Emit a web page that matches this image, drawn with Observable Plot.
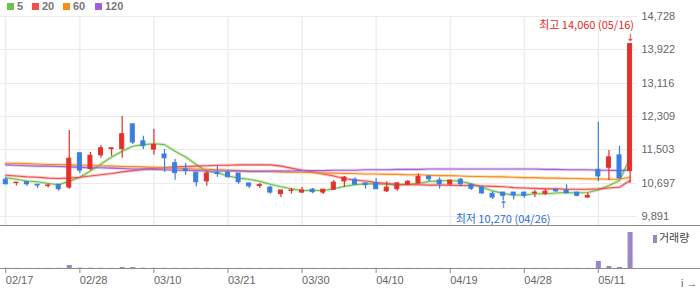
<!DOCTYPE html>
<html><head><meta charset="utf-8">
<script src="https://cdn.jsdelivr.net/npm/d3@7"></script>
<script src="https://cdn.jsdelivr.net/npm/@observablehq/plot@0.6"></script>
<style>
body{margin:0;background:#fff;}
#wrap{position:relative;width:700px;height:289px;overflow:hidden;font-family:"Liberation Sans",Arial,sans-serif;}
#wrap svg{position:absolute;left:0;overflow:visible;}
.leg{position:absolute;top:1px;font:bold 11px "Liberation Sans",Arial,sans-serif;color:#777;line-height:11px;white-space:nowrap;}
.leg i{display:inline-block;width:7px;height:7px;margin-right:3px;vertical-align:0px;}
.hline{position:absolute;left:0;width:700px;height:1px;background:#8a8a8a;}
#vleg{position:absolute;left:653px;top:231px;font:11px "Noto Sans CJK KR",sans-serif;color:#444;line-height:12px;}
#vleg i{display:inline-block;width:4px;height:8px;background:#9b84c8;margin-right:2px;vertical-align:-1px;}
</style></head>
<body>
<div id="wrap"></div>
<script>
// ---- data ----
const dates = ["02/17","02/20","02/21","02/22","02/23","02/24","02/27","02/28","03/02","03/03",
  "03/06","03/07","03/08","03/09","03/10","03/13","03/14","03/15","03/16","03/17",
  "03/20","03/21","03/22","03/23","03/24","03/27","03/28","03/29","03/30","03/31",
  "04/03","04/04","04/05","04/06","04/07","04/10","04/11","04/12","04/13","04/14",
  "04/17","04/18","04/19","04/20","04/21","04/24","04/25","04/26","04/27","04/28",
  "05/02","05/03","05/04","05/08","05/09","05/10","05/11","05/12","05/15","05/16"];
const openP  = [10780,10700,10720,10660,10630,10660,10590,11420,11040,11370,
  11520,11520,12120,11710,11510,11390,11180,11030,10950,10740,
  10940,10950,10930,10690,10630,10590,10430,10510,10470,10540,
  10470,10540,10740,10780,10690,10700,10500,10550,10660,10690,
  10860,10760,10670,10780,10660,10590,10440,10470,10470,10470,
  10450,10440,10540,10520,10470,10350,11020,11070,11370,10990];
const highP  = [10830,10710,10720,10660,10680,10660,11970,11420,11440,11610,
  11540,12310,12120,11830,12000,11510,11270,11170,10950,10980,
  11120,11000,10930,10690,10690,10620,10520,10570,10590,10570,
  10540,10760,10860,10830,10690,10810,10730,10710,10760,10920,
  10870,10830,10760,10810,10660,10630,10490,10470,10470,10470,
  10520,10550,10540,10660,10470,10460,12170,11490,11590,14060];
const lowP   = [10660,10630,10620,10570,10580,10500,10550,10930,10990,11300,
  11350,11300,11630,11510,11370,10960,10770,10890,10610,10620,
  10840,10840,10670,10570,10570,10430,10350,10430,10450,10440,
  10420,10520,10600,10650,10550,10550,10470,10500,10650,10680,
  10730,10550,10620,10610,10520,10420,10300,10270,10290,10330,
  10350,10400,10470,10450,10370,10330,10740,10760,10810,10690];
const closeP = [10670,10710,10670,10640,10640,10550,11290,11000,11360,11540,
  11540,11880,11680,11590,11620,11300,10940,10990,10720,10930,
  10920,10840,10720,10620,10650,10470,10520,10520,10520,10480,
  10540,10710,10830,10660,10650,10550,10590,10690,10730,10850,
  10790,10670,10760,10670,10560,10450,10350,10390,10400,10390,
  10470,10490,10500,10450,10390,10390,10860,11320,10810,14060];
const volume = [9000,6000,5000,5000,6000,8000,150000,20000,15000,10000,
  8000,50000,50000,14000,12000,10000,9000,7000,8000,9000,
  6000,6000,7000,5000,5000,6000,5000,4000,5000,5000,
  5000,6000,7000,5000,5000,6000,5000,5000,5000,6000,
  5000,5000,5000,5000,5000,6000,6000,7000,5000,5000,
  5000,5000,4000,5000,5000,6000,350000,100000,50000,1800000];
const ma5   = [10830,10790,10750,10730,10690,10660,10740,10840,10990,11160,
  11330,11470,11590,11630,11650,11630,11470,11330,11150,10980,
  10950,10870,10820,10790,10740,10670,10610,10560,10520,10520,
  10520,10560,10620,10660,10680,10680,10670,10650,10670,10690,
  10740,10750,10760,10740,10680,10600,10510,10450,10410,10410,
  10440,10440,10460,10470,10460,10470,10530,10640,10760,11310];
const ma20  = [10890,10870,10850,10840,10820,10810,10820,10840,10870,10900,
  10930,10970,11000,11030,11060,11070,11090,11100,11110,11120,
  11130,11130,11140,11140,11140,11140,11110,11060,11010,10970,
  10920,10870,10810,10770,10750,10710,10690,10670,10660,10660,
  10650,10650,10650,10640,10640,10630,10620,10610,10590,10580,
  10570,10560,10560,10550,10550,10550,10560,10580,10600,10760];
const ma60  = [11180,11180,11170,11160,11150,11150,11140,11130,11130,11120,
  11110,11100,11100,11090,11080,11070,11060,11050,11040,11030,
  11020,11010,11000,10990,10990,10980,10970,10960,10960,10950,
  10940,10940,10930,10930,10920,10920,10910,10910,10900,10900,
  10890,10880,10880,10870,10860,10860,10850,10850,10840,10830,
  10830,10820,10820,10810,10810,10800,10800,10790,10790,10840];
const ma120 = [11140,11130,11120,11110,11110,11100,11090,11080,11070,11070,
  11060,11050,11040,11040,11030,11020,11010,11010,11000,10990,
  10990,10990,10990,10980,10980,10990,10990,10990,11000,11000,
  11000,11010,11010,11010,11020,11020,11020,11030,11030,11030,
  11040,11040,11040,11040,11040,11040,11040,11040,11040,11040,
  11040,11030,11030,11020,11020,11020,11010,11010,11000,11020];
const tickDates = ["02/17","02/28","03/10","03/21","03/30","04/10","04/19","04/28","05/11"];
const yTicks = [9891,10697,11503,12309,13116,13922,14728];
const maNames = ["5","20","60","120"];
const maColors = ["#6cc24a","#f05050","#f5901e","#a160d4"];
const upColor = "#e5302a", downColor = "#3a7ee0", volColor = "#9b84c8";

// ---- build ----
const rows = dates.map((d,i) => ({i, date:d, open:openP[i], high:highP[i], low:lowP[i], close:closeP[i], vol:volume[i], up: closeP[i] >= openP[i]}));
const maSeries = [ma5, ma20, ma60, ma120];
const tickIdx = tickDates.map(d => dates.indexOf(d));
const fmt = d3.format(",");
const hiRow = rows.reduce((a,b) => b.high > a.high ? b : a);
const loRow = rows.reduce((a,b) => b.low < a.low ? b : a);
const xDomain = [-0.5, 59.7];
const cColor = d => d.up ? upColor : downColor;

const lineMarks = [];
maSeries.forEach((s, k) => {
  const pts = s.map((v,i) => ({i, v}));
  lineMarks.push(Plot.line(pts, {x:"i", y:"v", stroke: maColors[k], strokeWidth: 3, strokeOpacity: 0.3}));
  lineMarks.push(Plot.line(pts, {x:"i", y:"v", stroke: maColors[k], strokeWidth: 1.1}));
});

const main = Plot.plot({
  width: 700, height: 226, marginTop: 16, marginBottom: 0, marginLeft: 0, marginRight: 63,
  style: {background: "transparent", fontFamily: "'Liberation Sans', Arial, sans-serif"},
  x: {domain: xDomain, axis: null},
  y: {domain: [9649, 14728], axis: null},
  marks: [
    Plot.ruleY(yTicks, {stroke: "#ebebeb", shapeRendering: "crispEdges"}),
    Plot.ruleX(tickIdx, {stroke: "#ebebeb", strokeWidth: 1.3}),
    Plot.axisY({anchor: "right", ticks: yTicks, tickSize: 0, tickPadding: 4, tickFormat: fmt, textAnchor: "start", fontSize: 11, fill: "#666"}),
    ...lineMarks,
    Plot.ruleX(rows, {x: "i", y1: "low", y2: "high", stroke: cColor, strokeWidth: 1.2}),
    Plot.rect(rows, {x1: d => d.i - 0.19, x2: d => d.i + 0.19, y1: "open", y2: "close", fill: cColor, stroke: cColor, strokeWidth: 1}),
    Plot.text([hiRow], {x: "i", y: "high", text: d => `최고 ${fmt(d.high)} (${d.date})`, textAnchor: "end", dx: 4, dy: -19, fill: "#e8281e", fontSize: 11, fontFamily: "'Noto Sans CJK KR', sans-serif"}),
    Plot.text([hiRow], {x: "i", y: "high", text: () => "↓", dy: -6, fill: "#e8281e", fontSize: 10, fontFamily: "'DejaVu Sans', sans-serif"}),
    Plot.text([loRow], {x: "i", y: "low", text: d => `최저 ${fmt(d.low)} (${d.date})`, textAnchor: "middle", dx: 0, dy: 19, fill: "#2b6ed8", fontSize: 11, fontFamily: "'Noto Sans CJK KR', sans-serif"}),
    Plot.text([loRow], {x: "i", y: "low", text: () => "↑", dy: 4, fill: "#2b6ed8", fontSize: 10, fontFamily: "'DejaVu Sans', sans-serif"})
  ]
});
main.style.top = "0px";

const vol = Plot.plot({
  width: 700, height: 63, marginTop: 0, marginBottom: 21, marginLeft: 0, marginRight: 63,
  style: {background: "transparent", fontFamily: "'Liberation Sans', Arial, sans-serif"},
  x: {domain: xDomain, axis: null},
  y: {domain: [0, 2100000], axis: null},
  marks: [
    Plot.ruleX(rows, {x: "i", y1: 0, y2: "vol", stroke: volColor, strokeWidth: 5}),
    Plot.axisX({ticks: tickIdx, tickFormat: i => dates[i], tickSize: 5, tickPadding: 3, textAnchor: "start", fontSize: 11, fill: "#666", stroke: "#888"})
  ]
});
vol.style.top = "226px";

const wrap = document.getElementById("wrap");
wrap.appendChild(main);
wrap.appendChild(vol);
const l1 = document.createElement("div"); l1.className = "hline"; l1.style.top = "225px"; wrap.appendChild(l1);
const l2 = document.createElement("div"); l2.className = "hline"; l2.style.top = "268px"; wrap.appendChild(l2);
const legLeft = [7, 32, 63, 95];
maNames.forEach((n, k) => {
  const el = document.createElement("div");
  el.className = "leg";
  el.style.left = legLeft[k] + "px";
  el.innerHTML = `<i style="background:${maColors[k]}"></i>${n}`;
  wrap.appendChild(el);
});
const vl = document.createElement("div");
vl.id = "vleg";
vl.innerHTML = "<i></i>거래량";
wrap.appendChild(vl);
</script>
</body></html>
